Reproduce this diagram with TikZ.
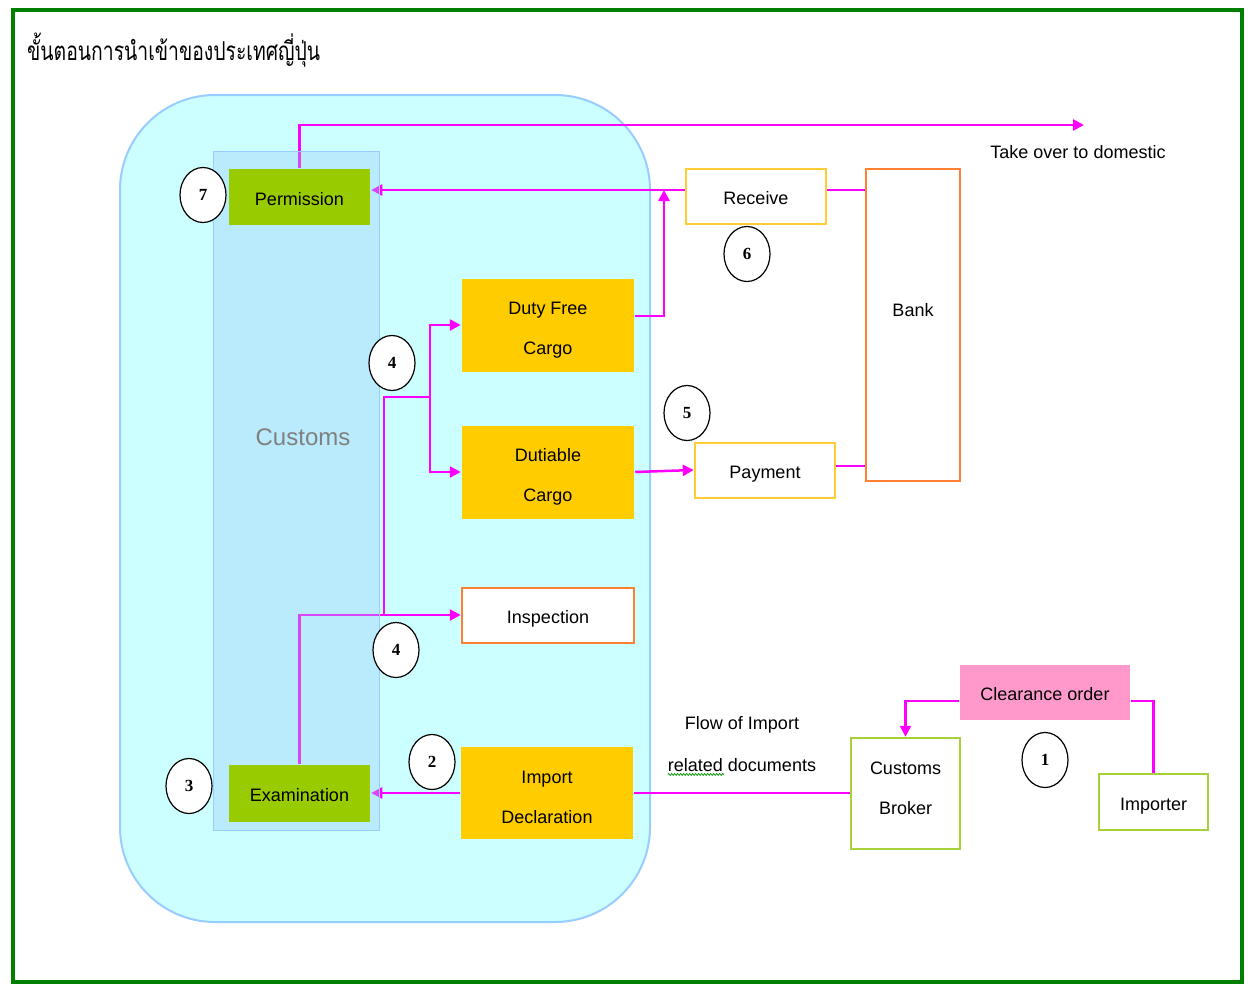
\documentclass[tikz,border=0pt]{standalone}
\usepackage{fontspec}
\setmainfont{Liberation Sans}
\newfontfamily\thaifont[Script=Thai]{Loma}
\newfontfamily\numfont{Liberation Serif}
\usetikzlibrary{arrows.meta,shapes.geometric,decorations.pathmorphing}
\pgfdeclarelayer{bglayer}
\pgfdeclarelayer{lines}
\pgfdeclarelayer{tint}
\pgfsetlayers{bglayer,lines,tint,main}
\definecolor{flowc}{HTML}{FF00FF}
\definecolor{cyanfill}{HTML}{CCFFFF}
\definecolor{lblue}{HTML}{99CCFF}
\definecolor{tintc}{HTML}{96C6F9}
\definecolor{grbox}{HTML}{99CC00}
\definecolor{orbox}{HTML}{FFCC00}
\definecolor{orline}{HTML}{FF8033}
\definecolor{yeline}{HTML}{FFCC33}
\definecolor{pinkbox}{HTML}{FF99CC}
\definecolor{lgline}{HTML}{A6D13A}
\definecolor{frame}{HTML}{007F00}
\definecolor{custgray}{HTML}{808080}
\newcommand\twoline[4]{\rule{0pt}{#1pt}#3\\#4\rule[-#2pt]{0pt}{#2pt}}
\tikzset{
  lbl/.style={font=\fontsize{18}{40}\selectfont, align=center, inner sep=0pt},
  box/.style={lbl, rectangle, line width=2.5pt},
  oneline/.style={text height=17pt, text depth=1pt},
  greenbox/.style={box, fill=grbox},
  orangebox/.style={box, fill=orbox},
  inspbox/.style={box, fill=white, draw=orline},
  yellowbox/.style={box, fill=white, draw=yeline},
  bankbox/.style={box, fill=white, draw=orline},
  pinkb/.style={box, fill=pinkbox},
  lgbox/.style={box, fill=white, draw=lgline},
  num/.style={ellipse, draw=black, line width=1.2pt, fill=white, minimum width=46pt, minimum height=55pt, inner sep=0pt, font=\numfont\bfseries\fontsize{17}{17}\selectfont},
  flow/.style={draw=flowc, line width=2.5pt},
  arr/.style={-{Triangle[length=11pt,width=11pt]}},
}
\begin{document}
\begin{tikzpicture}[x=1pt,y=-1pt]
\useasboundingbox (0,0) rectangle (1251,985);

% background regions
\begin{pgfonlayer}{bglayer}
\fill[white] (0,0) rectangle (1251,985);
\draw[frame, line width=4pt] (13,10) rectangle (1242,982);
\draw[fill=cyanfill, draw=lblue, line width=2pt, rounded corners=95pt] (120,95) rectangle (650,922);
\end{pgfonlayer}
\begin{pgfonlayer}{tint}
\fill[tintc, fill opacity=0.35] (213,151) rectangle (379,830);
\draw[lblue, line width=1pt] (213,151) rectangle (379,830);
\end{pgfonlayer}

% title
\node[anchor=base west, inner sep=0pt, font=\thaifont\fontsize{26}{30}\selectfont] (title) at (27,60) {\scalebox{0.745}[1]{ขั้นตอนการนำเข้าของประเทศญี่ปุ่น}};

\node[font=\fontsize{24}{24}\selectfont, text=custgray, inner sep=0pt] (customs) at (303,437) {Customs};

% boxes
\node[greenbox, oneline, minimum width=141pt, minimum height=56pt] (perm) at (299.5,197) {Permission};
\node[greenbox, oneline, minimum width=141pt, minimum height=57pt] (exam) at (299.5,793.5) {Examination};
\node[orangebox, minimum width=172pt, minimum height=93pt] (dfc) at (548,325.5) {\twoline{22}{4}{Duty Free}{Cargo}};
\node[orangebox, minimum width=172pt, minimum height=93pt] (dut) at (548,472.5) {\twoline{22}{4}{Dutiable}{Cargo}};
\node[inspbox, oneline, minimum width=172pt, minimum height=55pt] (insp) at (548,615.5) {Inspection};
\node[orangebox, minimum width=172pt, minimum height=92pt] (imp) at (547,793) {\twoline{21}{0}{Import}{Declaration}};
\node[yellowbox, oneline, minimum width=140pt, minimum height=55pt] (recv) at (756,196.5) {Receive};
\node[yellowbox, oneline, minimum width=140pt, minimum height=55pt] (pay) at (765,470.5) {Payment};
\node[bankbox, minimum width=94pt, minimum height=312pt, label={[lbl, yshift=15pt, name=banklbl]center:Bank}] (bank) at (913,325) {};
\node[pinkb, oneline, minimum width=170pt, minimum height=55pt] (clr) at (1045,692.5) {Clearance order};
\node[lgbox, minimum width=109pt, minimum height=111pt] (brk) at (905.5,793.5) {\twoline{13}{11}{Customs}{Broker}};
\node[lgbox, oneline, minimum width=109pt, minimum height=56pt] (impr) at (1153.5,802) {Importer};

% free labels
\node[lbl] (take) at (1078,152) {Take over to domestic};
\node[lbl] (flow1) at (742,725) {Flow of Import};
\node[lbl] (flow2) at (742,765) {related documents};
\draw[decorate, decoration={snake, segment length=3pt, amplitude=1pt}, draw=green!60!black, line width=0.7pt] ([yshift=-3pt]flow2.base west) -- ++(56,0);

% numbered circles
\node[num] (c7) at (203,195) {7};
\node[num] (c3) at (189,786) {3};
\node[num] (c4a) at (392,363) {4};
\node[num] (c4b) at (396,650) {4};
\node[num] (c2) at (432,762) {2};
\node[num] (c6) at (747,254) {6};
\node[num] (c5) at (687,413) {5};
\node[num] (c1) at (1045,760) {1};

% coordinates
\coordinate (takeover) at (1084,125);
\coordinate (junc) at (664,190);
\coordinate (split1) at (384,615);
\coordinate (split2) at (430,397);

% connectors
\begin{pgfonlayer}{lines}
\draw[flow, arr] (perm.north) -- (perm.north |- 0,125) -- (takeover);
\draw[flow, arr] (recv.west |- 0,190) -- (perm.east |- 0,190);
\draw[flow, arr] (dfc.east |- 0,316) -| (junc);
\draw[flow] (recv.east |- 0,190) -- (bank.west |- 0,190);
\draw[flow, arr] (dut.east |- 0,472) -- (pay.west |- 0,470);
\draw[flow] (pay.east |- 0,466) -- (bank.west |- 0,466);
\draw[flow, arr] (exam.north) -- (exam.north |- 0,615) -- (insp.west |- 0,615);
\draw[flow] (split1) |- (split2);
\draw[flow, arr] (split2) |- (dfc.west |- 0,325);
\draw[flow, arr] (split2) |- (dut.west |- 0,472);
\draw[flow, arr] (imp.west) -- (exam.east |- imp.west);
\draw[flow] (brk.west |- imp.west) -- (imp.east);
\draw[flow, arr] (clr.west |- 0,701) -| (brk.north);
\draw[flow] (clr.east |- 0,701) -| (impr.north);
\end{pgfonlayer}
\end{tikzpicture}
\end{document}
